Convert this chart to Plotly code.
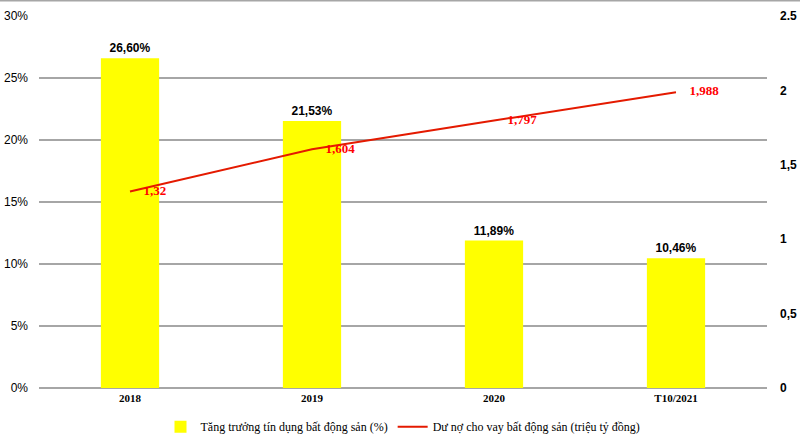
import plotly.graph_objects as go

categories = ["2018", "2019", "2020", "T10/2021"]
credit_growth = [26.60, 21.53, 11.89, 10.46]
loan_balance = [1.32, 1.604, 1.797, 1.988]
growth_labels = ["26,60%", "21,53%", "11,89%", "10,46%"]
loan_labels = ["1,32", "1,604", "1,797", "1,988"]
left_ticks = [0, 5, 10, 15, 20, 25, 30]
left_tick_text = ["0%", "5%", "10%", "15%", "20%", "25%", "30%"]
right_ticks = [0, 0.5, 1, 1.5, 2, 2.5]
right_tick_text = ["0", "0,5", "1", "1,5", "2", "2.5"]

fig = go.Figure()
fig.add_trace(go.Bar(
    x=categories, y=credit_growth, width=0.32,
    marker=dict(color="#ffff00", line=dict(width=0)),
    text=growth_labels, textposition="outside", cliponaxis=False,
    textfont=dict(family="Liberation Sans", size=12, color="#000000", weight="bold"),
    name="Tăng trưởng tín dụng bất động sản (%)",
))
fig.add_trace(go.Scatter(
    x=categories, y=loan_balance, yaxis="y2", mode="lines+markers+text",
    line=dict(color="#e41a00", width=2),
    marker=dict(size=20, color="rgba(0,0,0,0)"),
    text=loan_labels, textposition="middle right", cliponaxis=False,
    textfont=dict(family="Liberation Serif", size=13, color="#ff0000", weight="bold"),
    name="Dư nợ cho vay bất động sản (triệu tỷ đồng)",
))

fig.update_layout(
    width=800, height=439,
    margin=dict(l=39, r=33, t=16, b=51, autoexpand=False),
    paper_bgcolor="white", plot_bgcolor="white",
    showlegend=True,
    legend=dict(orientation="h", x=0.5, xanchor="center", y=-0.065, yanchor="top",
                font=dict(family="Liberation Serif", size=12, color="#000000"),
                itemwidth=30, tracegroupgap=0),
    xaxis=dict(type="category", range=[-0.5, 3.5], showgrid=False, showline=False,
               ticks="", automargin=False, ticklabelstandoff=2,
               tickfont=dict(family="Liberation Serif", size=11, color="#000000", weight="bold")),
    yaxis=dict(range=[0, 30], tickvals=left_ticks, ticktext=left_tick_text,
               showgrid=True, gridcolor="#a6a6a6", gridwidth=1.5,
               zeroline=True, zerolinecolor="#a6a6a6", zerolinewidth=1.5,
               showline=False, ticks="", automargin=False, ticklabelstandoff=10,
               tickfont=dict(family="Liberation Sans", size=12, color="#000000")),
    yaxis2=dict(range=[0, 2.5], overlaying="y", side="right", tickvals=right_ticks,
                ticktext=right_tick_text, showgrid=False, zeroline=False, showline=False, ticks="",
                ticklabelstandoff=12, automargin=False,
                tickfont=dict(family="Liberation Sans", size=12, color="#000000", weight="bold")),
    shapes=[dict(type="line", xref="paper", yref="paper", x0=-0.06, x1=1.05, y0=1.042, y1=1.042,
                 line=dict(color="#a6a6a6", width=2))],
)

fig.write_html("out.html", config={"displayModeBar": False},
               post_script="document.body.style.margin='0';document.body.style.overflow='hidden';")
